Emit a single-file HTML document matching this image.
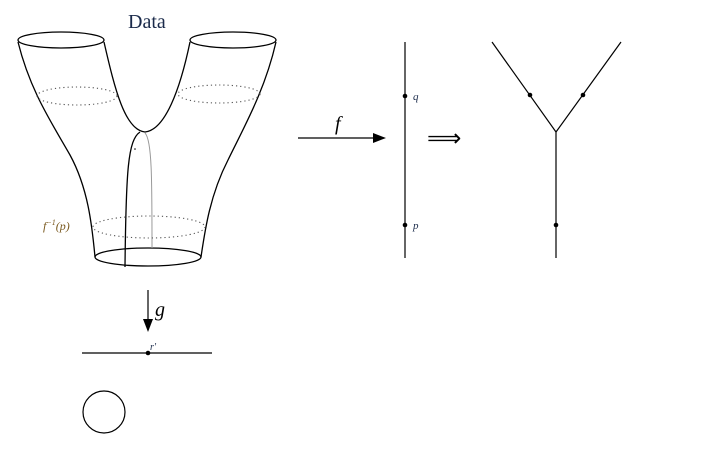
<!DOCTYPE html>
<html><head><style>body{margin:0;background:#fff}svg{display:block}</style></head><body>
<svg width="701" height="457" viewBox="0 0 701 457" xmlns="http://www.w3.org/2000/svg" font-family="Liberation Serif, serif">
<g fill="none" stroke="#000" stroke-width="1.3">
<ellipse cx="61" cy="40" rx="43" ry="8"/>
<ellipse cx="233" cy="40" rx="43" ry="8"/>
<ellipse cx="148" cy="257" rx="53" ry="9"/>
<path d="M18,42 C30,90 50,120 70,155 C88,188 92,225 95,257"/>
<path d="M104,42 C115,90 125,130 145,132 C165,130 180,90 190,42"/>
<path d="M276,42 C265,90 245,125 228,160 C210,195 205,230 201,257"/>
<path d="M140,132 C128,140 126,170 125,267"/>
</g>
<path d="M145,133 C152,140 152,180 152,248" fill="none" stroke="#999" stroke-width="1"/>
<g fill="none" stroke="#555" stroke-width="1.1" stroke-dasharray="1.2 3">
<ellipse cx="77" cy="96" rx="40" ry="9"/>
<ellipse cx="219" cy="94" rx="41" ry="9"/>
<ellipse cx="149" cy="227" rx="56" ry="11"/>
</g>
<circle cx="135" cy="149" r="0.8" fill="#000"/>
<text x="128" y="28" font-size="20" fill="#1a2a4a">Data</text>
<text x="43" y="230" font-size="12" font-style="italic" fill="#7a5a20">f<tspan font-size="8" dy="-5">−1</tspan><tspan dy="5">(p)</tspan></text>
<g stroke="#000" stroke-width="1.2">
<line x1="298" y1="138" x2="376" y2="138"/>
<line x1="405" y1="42" x2="405" y2="258"/>
<line x1="492" y1="42" x2="556" y2="132"/>
<line x1="621" y1="42" x2="556" y2="132"/>
<line x1="556" y1="132" x2="556" y2="258"/>
<line x1="148" y1="290" x2="148" y2="322"/>
<line x1="82" y1="353" x2="212" y2="353"/>
</g>
<polygon points="386,138 373,133 373,143" fill="#000"/>
<polygon points="148,332 143,319 153,319" fill="#000"/>
<text x="335" y="130" font-size="20" font-style="italic">f</text>
<text x="155" y="316" font-size="20" font-style="italic">g</text>
<text x="427" y="146" font-size="24">⟹</text>
<g fill="#000">
<circle cx="405" cy="96" r="2.3"/><circle cx="405" cy="225" r="2.3"/>
<circle cx="530" cy="95" r="2.3"/><circle cx="583" cy="95" r="2.3"/><circle cx="556" cy="225" r="2.3"/>
<circle cx="148" cy="353" r="2.3"/>
</g>
<text x="413" y="100" font-size="11" font-style="italic" fill="#1a2a4a">q</text>
<text x="413" y="229" font-size="11" font-style="italic" fill="#1a2a4a">p</text>
<text x="150" y="350" font-size="10" font-style="italic" fill="#1a2a4a">r′</text>
<circle cx="104" cy="412" r="21" fill="none" stroke="#000" stroke-width="1.2"/>
</svg>
</body></html>
